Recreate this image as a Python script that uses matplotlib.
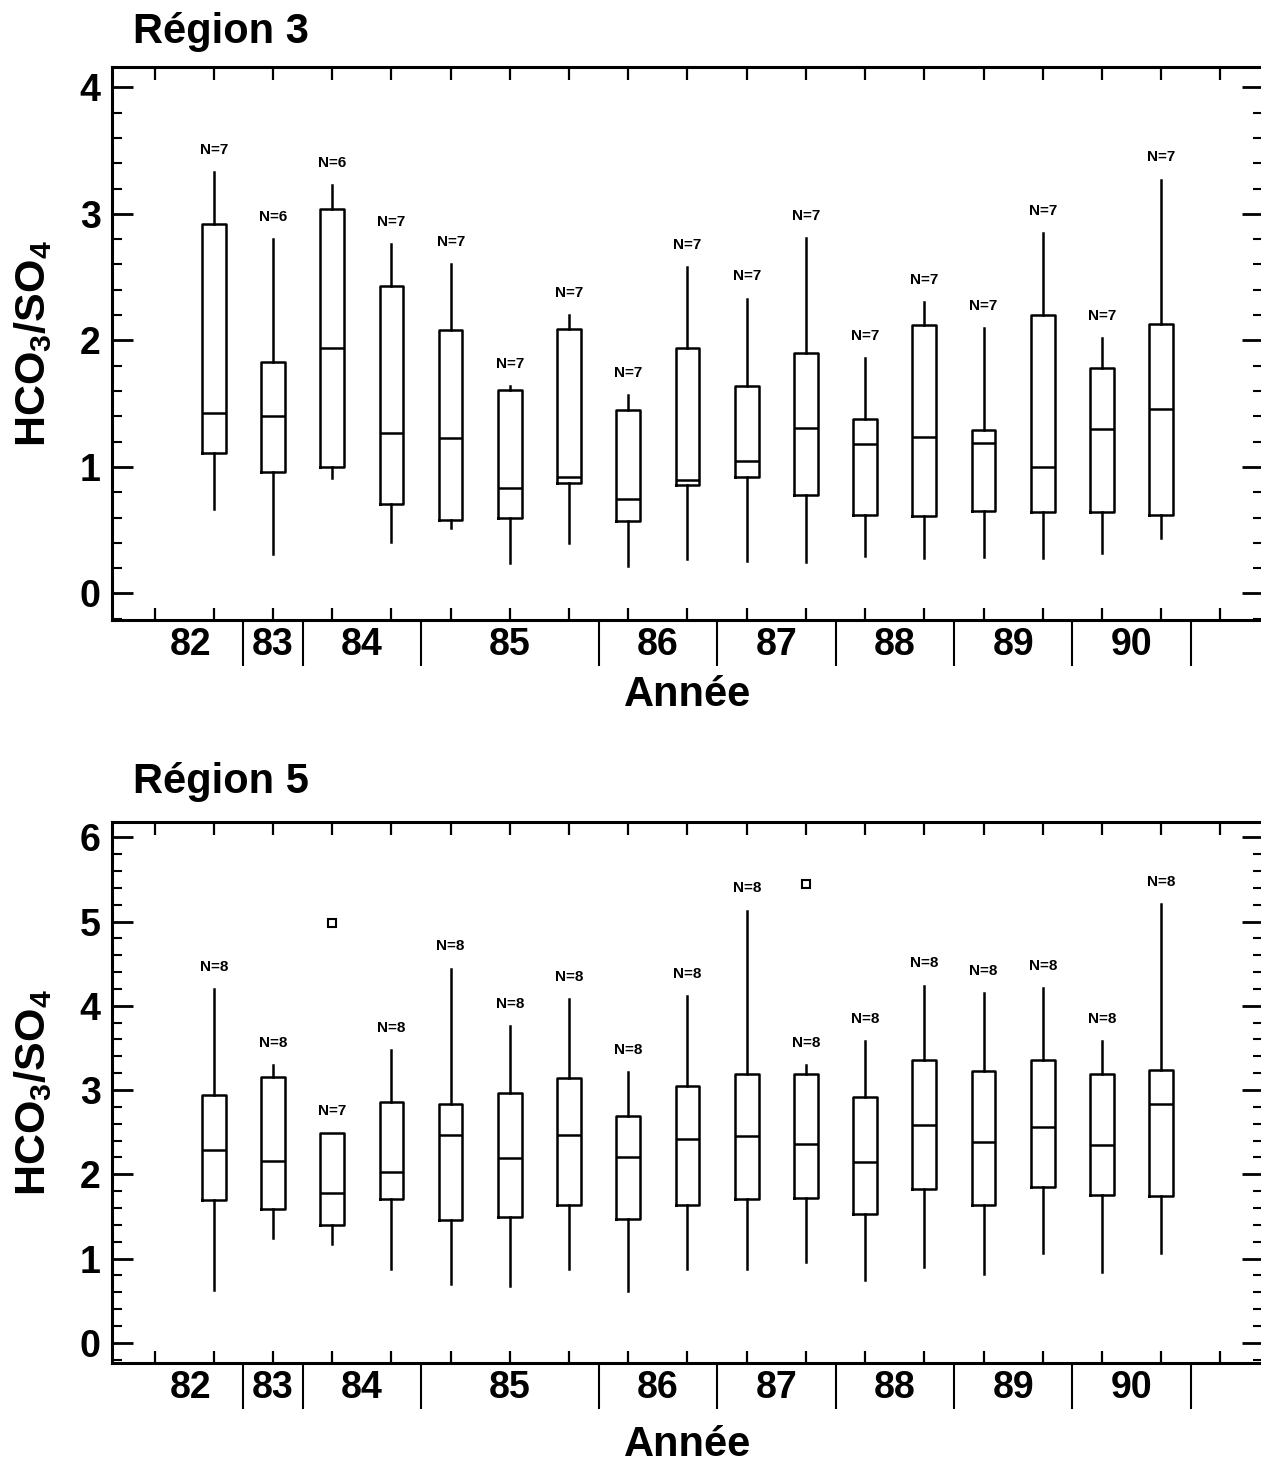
import numpy as np
import matplotlib
matplotlib.use("Agg")
import matplotlib.pyplot as plt
from matplotlib.ticker import MultipleLocator, FixedLocator

plt.rcParams['font.family'] = ['Liberation Sans', 'DejaVu Sans']
plt.rcParams['font.weight'] = 'bold'
plt.rcParams['mathtext.fontset'] = 'custom'
plt.rcParams['mathtext.rm'] = 'Liberation Sans:bold'
plt.rcParams['mathtext.bf'] = 'Liberation Sans:bold'

# === Années (nombre de boîtes par année) ===
annees = ['82', '83', '84', '85', '86', '87', '88', '89', '90']
boites_par_annee = [1, 1, 2, 3, 2, 2, 2, 2, 2]

# === Région 3 ===
r3_whishi = [3.33, 2.80, 3.23, 2.76, 2.60, 1.64, 2.20, 1.57, 2.58, 2.33, 2.81, 1.86, 2.30, 2.10, 2.85, 2.02, 3.27]
r3_q3 = [2.92, 1.83, 3.04, 2.43, 2.08, 1.61, 2.09, 1.45, 1.94, 1.64, 1.90, 1.38, 2.12, 1.29, 2.20, 1.78, 2.13]
r3_med = [1.43, 1.40, 1.94, 1.27, 1.23, 0.83, 0.92, 0.75, 0.90, 1.05, 1.31, 1.18, 1.24, 1.19, 1.00, 1.30, 1.46]
r3_q1 = [1.11, 0.96, 1.00, 0.71, 0.58, 0.60, 0.87, 0.57, 0.86, 0.92, 0.78, 0.62, 0.61, 0.65, 0.64, 0.64, 0.62]
r3_whislo = [0.67, 0.31, 0.91, 0.41, 0.52, 0.24, 0.40, 0.22, 0.27, 0.26, 0.25, 0.30, 0.28, 0.29, 0.28, 0.32, 0.44]
r3_fliers = [[] for _ in range(17)]
r3_n = [7, 6, 6, 7, 7, 7, 7, 7, 7, 7, 7, 7, 7, 7, 7, 7, 7]

# === Région 5 ===
r5_whishi = [4.20, 3.30, 2.49, 3.47, 4.44, 3.76, 4.08, 3.21, 4.11, 5.13, 3.30, 3.58, 4.24, 4.15, 4.21, 3.58, 5.21]
r5_q3 = [2.94, 3.16, 2.49, 2.86, 2.84, 2.96, 3.14, 2.69, 3.05, 3.19, 3.19, 2.92, 3.36, 3.23, 3.36, 3.19, 3.24]
r5_med = [2.29, 2.16, 1.78, 2.03, 2.47, 2.19, 2.47, 2.20, 2.42, 2.46, 2.36, 2.14, 2.58, 2.38, 2.56, 2.35, 2.84]
r5_q1 = [1.70, 1.59, 1.40, 1.71, 1.46, 1.49, 1.63, 1.47, 1.63, 1.71, 1.72, 1.53, 1.82, 1.63, 1.85, 1.75, 1.74]
r5_whislo = [0.63, 1.24, 1.17, 0.88, 0.70, 0.68, 0.88, 0.61, 0.88, 0.88, 0.96, 0.74, 0.90, 0.82, 1.07, 0.84, 1.07]
r5_fliers = [[] for _ in range(17)]
r5_fliers[2] = [4.98]
r5_fliers[10] = [5.45]
r5_n = [8, 8, 7, 8, 8, 8, 8, 8, 8, 8, 8, 8, 8, 8, 8, 8, 8]

positions = np.arange(1, 18)
separateurs = np.cumsum(boites_par_annee) + 0.5
bords = np.concatenate([[-0.3], separateurs])
centres = (bords[:-1] + bords[1:]) / 2

fig = plt.figure(figsize=(12.61, 14.62), dpi=100)
ax1 = fig.add_axes([0.0888, 0.5759, 0.9128, 0.3782])
ax2 = fig.add_axes([0.0888, 0.0677, 0.9128, 0.3700])


def panneau(ax, titre, whishi, q3, med, q1, whislo, fliers, n, ymin, ymax,
            titre_y, label_y):
    stats = []
    for i in range(len(med)):
        stats.append(dict(med=med[i], q1=q1[i], q3=q3[i], whislo=whislo[i],
                          whishi=whishi[i], fliers=fliers[i]))
    lp = dict(color='black', linewidth=1.8)
    ax.bxp(stats, positions=positions, widths=0.4, showcaps=False,
           manage_ticks=False, boxprops=lp, whiskerprops=lp, medianprops=lp,
           flierprops=dict(marker='s', markerfacecolor='none',
                           markeredgecolor='black', markersize=6,
                           markeredgewidth=1.5))

    for i in range(len(n)):
        ax.annotate('N=%d' % n[i], xy=(positions[i], whishi[i]),
                    xytext=(0, 16), textcoords='offset points',
                    ha='center', va='center', fontsize=11, fontweight='bold')

    ax.set_xlim(-0.72, 18.72)
    ax.set_ylim(ymin, ymax)

    ax.xaxis.set_major_locator(FixedLocator(np.arange(0, 19)))
    ax.xaxis.set_minor_locator(FixedLocator(separateurs))
    ax.tick_params(axis='x', which='major', direction='in', top=True,
                   bottom=True, length=9, width=1.6, labelbottom=False)
    ax.tick_params(axis='x', which='minor', direction='out', top=False,
                   bottom=True, length=33, width=1.5)

    ax.yaxis.set_major_locator(MultipleLocator(1))
    ax.yaxis.set_minor_locator(MultipleLocator(0.2))
    ax.tick_params(axis='y', which='major', direction='in', left=True,
                   right=True, length=15, width=2, labelsize=27, pad=8)
    ax.tick_params(axis='y', which='minor', direction='in', left=True,
                   right=True, length=7, width=1.5)

    for s in ax.spines.values():
        s.set_linewidth(2.2)

    for lab, c in zip(annees, centres):
        ax.annotate(lab, xy=(c, 0), xycoords=('data', 'axes fraction'),
                    xytext=(0, -5), textcoords='offset points',
                    ha='center', va='top', fontsize=27, fontweight='bold')

    ax.set_xlabel('Année', fontsize=30, fontweight='bold')
    ax.xaxis.set_label_coords(0.5, label_y)
    ax.set_ylabel(r'$\mathbf{HCO_3/SO_4}$', fontsize=31)
    ax.yaxis.set_label_coords(-0.05, 0.5)

    ax.text(0.018, titre_y, titre, transform=ax.transAxes, ha='left',
            va='center', fontsize=30, fontweight='bold')


panneau(ax1, 'Région 3', r3_whishi, r3_q3, r3_med, r3_q1, r3_whislo,
        r3_fliers, r3_n, -0.21, 4.16, 1.063, -0.099)
panneau(ax2, 'Région 5', r5_whishi, r5_q3, r5_med, r5_q1, r5_whislo,
        r5_fliers, r5_n, -0.24, 6.18, 1.074, -0.114)

fig.savefig('out.png', dpi=100)
